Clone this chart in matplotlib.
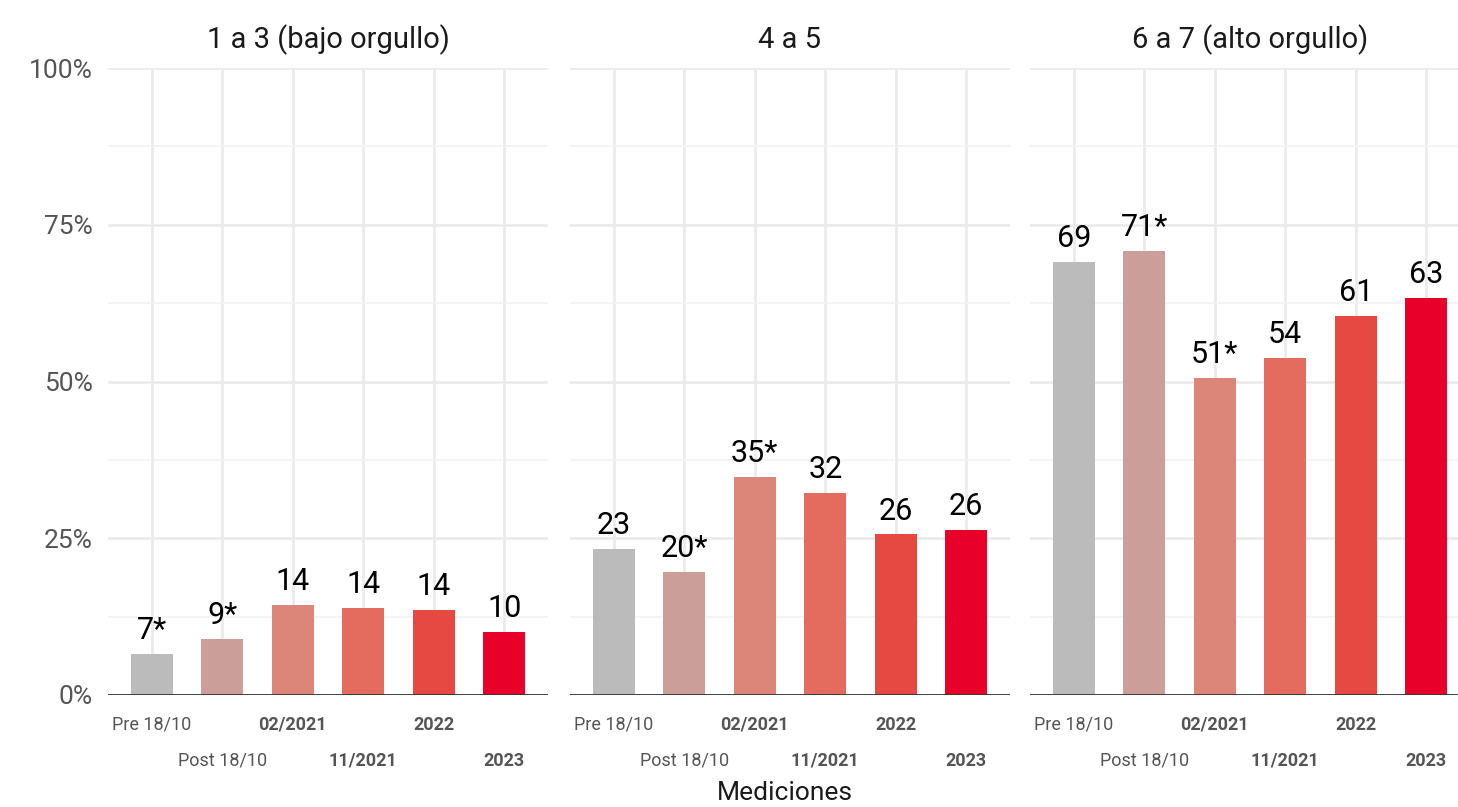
import matplotlib
matplotlib.use('Agg')
import matplotlib.pyplot as plt
from matplotlib.ticker import MultipleLocator, FuncFormatter

panels = ["1 a 3 (bajo orgullo)", "4 a 5", "6 a 7 (alto orgullo)"]
mediciones = ["Pre 18/10", "Post 18/10", "02/2021", "11/2021", "2022", "2023"]
bold_ticks = [False, False, True, True, True, True]
values = [
    [6.6, 8.9, 14.4, 13.9, 13.6, 10.1],
    [23.3, 19.6, 34.8, 32.2, 25.6, 26.3],
    [69.1, 70.8, 50.6, 53.8, 60.5, 63.3],
]
labels = [
    ["7*", "9*", "14", "14", "14", "10"],
    ["23", "20*", "35*", "32", "26", "26"],
    ["69", "71*", "51*", "54", "61", "63"],
]
colors = ["#BBBBBB", "#CC9E9A", "#DC867A", "#E46C5F", "#E64941", "#E8002A"]

font = "Roboto"
fig = plt.figure(figsize=(14.58, 8.07), dpi=100)
lefts = [108, 570, 1030]
width = 440
bottom, top = 695, 68
W, H = 1458, 807

xs = list(range(1, len(mediciones) + 1))
for i, name in enumerate(panels):
    ax = fig.add_axes([lefts[i] / W, 1 - bottom / H, width / W, (bottom - top) / H])
    ax.bar(xs, values[i], width=0.6, color=colors, zorder=3)
    for x, v, lab in zip(xs, values[i], labels[i]):
        ax.text(x, v + 1.4, lab, ha="center", va="bottom", fontsize=22,
                family=font, color="black", zorder=4)
    ax.set_xlim(0.38, 6.62)
    ax.set_ylim(0, 100)
    ax.yaxis.set_major_locator(MultipleLocator(25))
    ax.yaxis.set_minor_locator(MultipleLocator(12.5))
    ax.grid(axis="y", which="major", color="#EBEBEB", linewidth=2, zorder=0)
    ax.grid(axis="y", which="minor", color="#F2F2F2", linewidth=1.2, zorder=0)
    for x in xs:
        ax.axvline(x, color="#EBEBEB", linewidth=2, zorder=0)
    ax.axhline(0, color="#333333", linewidth=2, zorder=5)
    for s in ax.spines.values():
        s.set_visible(False)
    ax.tick_params(which="both", length=0)
    ax.set_xticks(xs)
    ax.set_xticklabels([])
    for j, (x, t) in enumerate(zip(xs, mediciones)):
        ax.annotate(t, xy=(x, 0), xycoords="data",
                    xytext=(0, -15 if j % 2 == 0 else -41), textcoords="offset points",
                    ha="center", va="top", fontsize=13, family=font,
                    fontweight="bold" if bold_ticks[j] else "normal", color="#555555")
    if i == 0:
        ax.yaxis.set_major_formatter(FuncFormatter(lambda v, p: f"{int(v)}%"))
        ax.tick_params(axis="y", labelsize=19, labelcolor="#555555", pad=11)
        for lab in ax.get_yticklabels():
            lab.set_family(font)
    else:
        ax.set_yticklabels([])
    fig.text((lefts[i] + width / 2) / W, 1 - 40 / H, name, ha="center", va="center",
             fontsize=21, family=font, color="#1a1a1a")

fig.text(785 / W, 1 - 793 / H, "Mediciones", ha="center", va="center",
         fontsize=19, family=font, color="#1a1a1a")

fig.savefig("out.png", dpi=100)
